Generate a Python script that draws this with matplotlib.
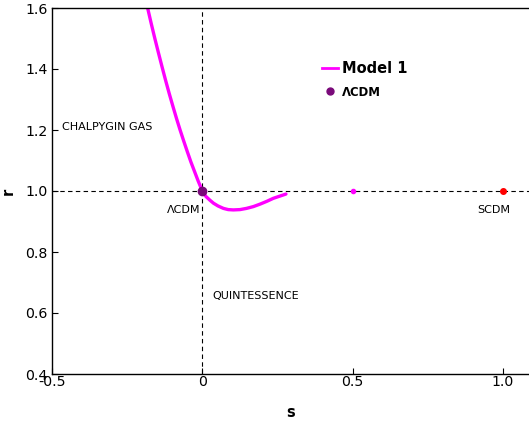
import matplotlib
matplotlib.use("Agg")
import matplotlib.pyplot as plt
from matplotlib.lines import Line2D

plt.rcParams['font.family'] = ['DejaVu Sans']

# r-s trajectory of Model 1
s_model = [-0.182, -0.170, -0.158, -0.146, -0.134, -0.122, -0.110, -0.098, -0.086,
           -0.074, -0.062, -0.050, -0.038, -0.026, -0.014, -0.006, 0.0,
           0.006, 0.012, 0.025, 0.037, 0.052, 0.070, 0.086, 0.103, 0.125,
           0.147, 0.170, 0.192, 0.214, 0.236, 0.257, 0.278]
r_model = [1.600, 1.549, 1.500, 1.453, 1.407, 1.362, 1.319, 1.278, 1.238,
           1.200, 1.164, 1.129, 1.095, 1.064, 1.033, 1.014, 1.000,
           0.990, 0.982, 0.970, 0.960, 0.951, 0.943, 0.939, 0.938, 0.939,
           0.943, 0.949, 0.957, 0.966, 0.976, 0.983, 0.990]

# fixed points (s, r)
lcdm_point = (0.0, 1.0)
mid_point = (0.5, 1.0)
scdm_point = (1.0, 1.0)

x_ticks = [-0.5, 0.0, 0.5, 1.0]
x_ticklabels = ["-0.5", "0", "0.5", "1.0"]
y_ticks = [0.4, 0.6, 0.8, 1.0, 1.2, 1.4, 1.6]
y_ticklabels = ["0.4", "0.6", "0.8", "1.0", "1.2", "1.4", "1.6"]

fig = plt.figure(figsize=(5.29, 4.24), dpi=100)
ax = fig.add_axes([52 / 529, 50 / 424, 477 / 529, 366 / 424])

ax.axhline(1.0, color="black", lw=0.8, ls=(0, (4, 3)), zorder=1)
ax.axvline(0.0, color="black", lw=0.8, ls=(0, (4, 3)), zorder=1)

ax.plot(s_model, r_model, color="#ff00ff", lw=2.4, solid_capstyle="round",
        solid_joinstyle="round", zorder=2)
ax.plot(*lcdm_point, "o", color="#7a0a7a", ms=6, zorder=3)
ax.plot(*mid_point, "o", color="#ff00ff", ms=3, zorder=3)
ax.plot(*scdm_point, "o", color="#ff0000", ms=4, zorder=3)

ax.text(-0.467, 1.21, "CHALPYGIN GAS", fontsize=8, ha="left", va="center")
ax.text(-0.008, 0.937, "ΛCDM", fontsize=8, ha="right", va="center")
ax.text(0.035, 0.656, "QUINTESSENCE", fontsize=8, ha="left", va="center")
ax.text(0.97, 0.937, "SCDM", fontsize=8, ha="center", va="center")

ax.set_xlim(-0.5, -0.5 + 477 / 300.7)
ax.set_ylim(0.4, 1.6)
ax.set_xticks(x_ticks)
ax.set_xticklabels(x_ticklabels)
ax.set_yticks(y_ticks)
ax.set_yticklabels(y_ticklabels)
ax.tick_params(direction="in", length=4, width=0.8, labelsize=10.2)
ax.tick_params(axis="x", pad=1)
ax.tick_params(axis="y", pad=3)
ax.spines["right"].set_visible(False)
for sp in ("left", "bottom", "top"):
    ax.spines[sp].set_linewidth(1.0)

ax.set_xlabel("s", fontsize=10.5, fontweight="bold", labelpad=11)
ax.set_ylabel("r", fontsize=10.5, fontweight="bold", labelpad=7)

handles = [
    Line2D([], [], color="#ff00ff", lw=2),
    Line2D([], [], color="#7a0a7a", marker="o", ls="none", ms=5),
]
leg = ax.legend(handles, ["Model 1", "ΛCDM"], loc="upper left",
                bbox_to_anchor=(0.54, 0.89), frameon=False,
                handlelength=1.15, handletextpad=0.3, labelspacing=0.75)
leg.get_texts()[0].set_fontsize(10.5)
leg.get_texts()[0].set_fontweight("bold")
leg.get_texts()[1].set_fontsize(8.4)
leg.get_texts()[1].set_fontweight("bold")

fig.savefig("out.png", dpi=100)
